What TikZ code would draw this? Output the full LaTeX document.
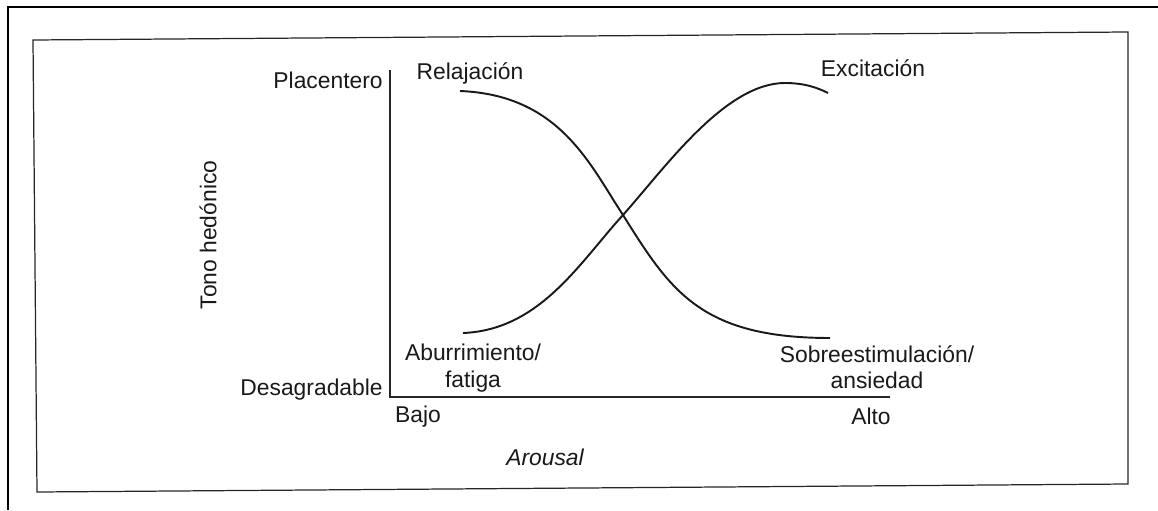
\documentclass[tikz,border=0pt]{standalone}
\usepackage{fontspec}
\setmainfont{Liberation Sans}
\usetikzlibrary{positioning}

\tikzset{
  lbl/.style={font=\fontsize{13}{15}\selectfont, text=black!90, inner sep=0pt},
  curve/.style={line width=1.1pt, black!90},
  axisline/.style={line width=0.8pt, black!85}
}

\begin{document}
\begin{tikzpicture}[x=0.02cm, y=-0.02cm]
        \useasboundingbox (0,0) rectangle (1158,510);

        % outer frame (cut off at right and bottom)
        \draw[line width=1.6pt] (1158,7) -- (8,7) -- (8,510);

        % inner box
        \draw[line width=0.7pt, black!85] (33,40) -- (1128,32) -- (1128,484) -- (37,492) -- cycle;

        % axes
        \coordinate (top) at (390,70);
        \coordinate (origin) at (390,397);
        \coordinate (right) at (890,397);
        \draw[axisline] (top) -- (origin) -- (right);

        % axis labels
        \node[lbl, anchor=east] (placentero) at (383,80) {Placentero};
        \node[lbl, anchor=east] (desagradable) at (383,390) {Desagradable};
        \node[lbl] (bajo) at (418,417) {Bajo};
        \node[lbl] (alto) at (871,416) {Alto};
        \node[lbl, font=\fontsize{13}{15}\selectfont\itshape] (arousal) at (545,457) {Arousal};
        \node[lbl, rotate=90] (tono) at (208,235) {Tono hedónico};

        % curve labels
        \node[lbl] (relajacion) at (470,73) {Relajación};
        \node[lbl] (excitacion) at (873,68) {Excitación};
        \node[lbl, align=center] (aburrimiento) at (473,368) {Aburrimiento/\\fatiga};
        \node[lbl, align=center] (sobre) at (877,367) {Sobreestimulación/\\ansiedad};

        % crossing point of the two curves
        \coordinate (cross) at (623,215);

        % decreasing curve
        \draw[curve] (460,91) .. controls (560,95) and (590,165) .. (cross)
                     .. controls (670,290) and (700,338) .. (830,338);

        % increasing curve
        \draw[curve] (463,333) .. controls (540,330) and (580,262) .. (cross)
                     .. controls (665,168) and (725,83) .. (785,83)
                     .. controls (805,83) and (818,88) .. (828,93);

\end{tikzpicture}
\end{document}
